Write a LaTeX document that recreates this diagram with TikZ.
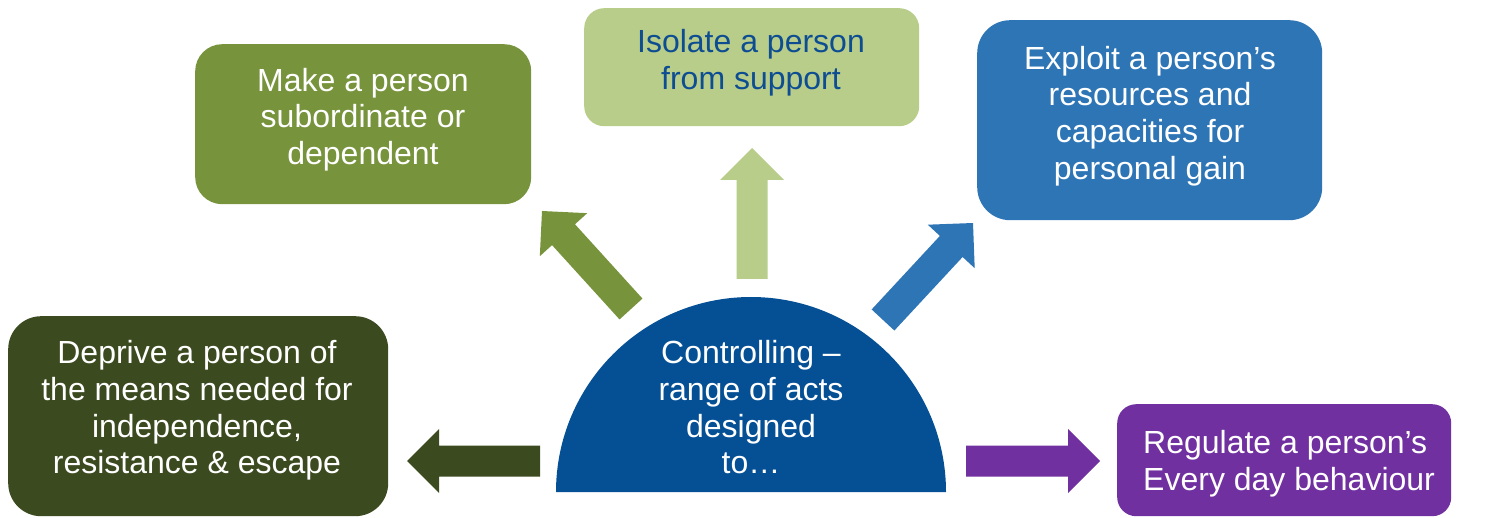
\documentclass[tikz,border=0pt]{standalone}
\usepackage{fontspec}
\setmainfont{Liberation Sans}
\usetikzlibrary{calc}
\definecolor{olivec}{HTML}{77933C}
\definecolor{lightg}{HTML}{B7CD89}
\definecolor{bluebox}{HTML}{2E75B6}
\definecolor{darkolive}{HTML}{3B4A1F}
\definecolor{purp}{HTML}{7030A0}
\definecolor{semiblue}{HTML}{055095}
\definecolor{isotext}{HTML}{0E4D92}
\newcommand\blockarrow[3]{%
  \coordinate (#2-h) at ($(#3)!32pt!(#2)$);
  \fill[#1] ($(#2)!15.5pt!90:(#3)$) -- ($(#2-h)!15.5pt!90:(#3)$) -- ($(#2-h)!32pt!90:(#3)$) -- (#3)
    -- ($(#2-h)!32pt!-90:(#3)$) -- ($(#2-h)!15.5pt!-90:(#3)$) -- ($(#2)!15.5pt!-90:(#3)$) -- cycle;}
\begin{document}
\begin{tikzpicture}[x=1pt,y=-1pt,
  box/.style={rounded corners=#1, inner sep=0pt, anchor=north west},
  txt/.style={align=center, inner sep=0pt, font=\fontsize{32}{36.7}\selectfont, text=white}]
\useasboundingbox (0,0) rectangle (1490,518);
% boxes
\node[box=27pt, fill=olivec, minimum width=336pt, minimum height=160pt] (make) at (195,44) {};
\node[box=20pt, fill=lightg, minimum width=335pt, minimum height=118pt] (iso) at (584,8) {};
\node[box=33pt, fill=bluebox, minimum width=345pt, minimum height=200pt] (expl) at (977,20) {};
\node[box=33pt, fill=darkolive, minimum width=380pt, minimum height=200pt] (depr) at (8,316) {};
\node[box=19pt, fill=purp, minimum width=334pt, minimum height=112pt] (reg) at (1117,404) {};
% texts
\node[txt] (maket) at (363,119.5) {Make a person\\subordinate or\\dependent};
\node[txt, text=isotext] (isot) at (751,63) {Isolate a person\\from support};
\node[txt] (explt) at (1150,116) {Exploit a person’s\\resources and\\capacities for\\personal gain};
\node[txt] (deprt) at (197,410.5) {Deprive a person of\\the means needed for\\independence,\\resistance \& escape};
\node[txt, align=left, anchor=west] (regt) at (1143,463.5) {Regulate a person’s\\Every day behaviour};
% semicircle
\coordinate (sc) at (751,492);
\fill[semiblue] (556,492) arc (180:360:195) -- cycle;
\node[txt] (ctrl) at (751,407.5) {Controlling –\\range of acts\\designed\\to…};
% arrows
\coordinate (aL) at (540,461); \coordinate (aLp) at (407,461);
\coordinate (aR) at (966,461); \coordinate (aRp) at (1100,461);
\coordinate (aU) at (752,279); \coordinate (aUp) at (752,148);
\coordinate (aO) at (631,309); \coordinate (aOp) at (542,211);
\coordinate (aB) at (883,320); \coordinate (aBp) at (973,223);
\blockarrow{darkolive}{aL}{aLp}
\blockarrow{purp}{aR}{aRp}
\blockarrow{lightg}{aU}{aUp}
\blockarrow{olivec}{aO}{aOp}
\blockarrow{bluebox}{aB}{aBp}
\end{tikzpicture}
\end{document}
